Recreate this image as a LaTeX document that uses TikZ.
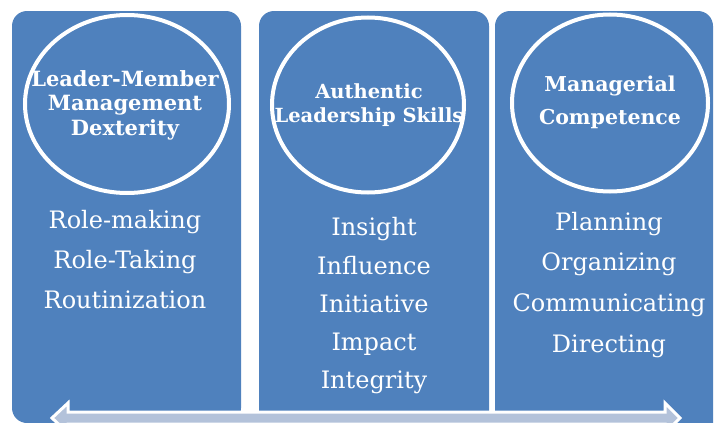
\documentclass[tikz,border=0pt]{standalone}
\usepackage{fontspec}
\setmainfont{DejaVu Serif}
\usetikzlibrary{shapes.geometric}
\definecolor{boxblue}{HTML}{4F81BD}
\definecolor{arrowfill}{HTML}{B3C2DA}
\tikzset{
  panel/.style={fill=boxblue, rounded corners=15pt},
  ring/.style={ellipse, draw=white, line width=4pt, inner sep=0pt},
  title/.style={text=white, font=\bfseries\fontsize{#1}{24}\selectfont, anchor=base, inner sep=0pt},
  title/.default=20,
  item/.style={text=white, font=\fontsize{24}{28}\selectfont, anchor=base, inner sep=0pt},
  band/.style={fill=arrowfill, draw=white, line width=3pt, line join=miter}
}
\begin{document}
\begin{tikzpicture}[x=1pt,y=-1pt]
\useasboundingbox (0,0) rectangle (715,423);
\clip (0,0) rectangle (715,423);
% panels
\fill[panel] (12,11) rectangle (241,423);
\fill[panel] (259,11) rectangle (489,440);
\fill[panel] (495,11) rectangle (713,440);
% rings
\node[ring, minimum width=204pt, minimum height=178pt] (c1) at (127,104) {};
\node[ring, minimum width=192pt, minimum height=175pt] (c2) at (368,105) {};
\node[ring, minimum width=196pt, minimum height=177pt] (c3) at (610,103) {};
% titles
\node[title=21] (t1a) at (125,86) {Leader-Member};
\node[title=21] (t1b) at (125,110) {Management};
\node[title=21] (t1c) at (125,135) {Dexterity};
\node[title=19.5] (t2a) at (369,98) {Authentic};
\node[title=19.5] (t2b) at (369,122) {Leadership Skills};
\node[title=20.5] (t3a) at (610,91) {Managerial};
\node[title=20.5] (t3b) at (610,124) {Competence};
% items
\node[item] (l1) at (125,228) {Role-making};
\node[item] (l2) at (125,268) {Role-Taking};
\node[item] (l3) at (125,308) {Routinization};
\node[item] (m1) at (374,235) {Insight};
\node[item] (m2) at (374,274) {Influence};
\node[item] (m3) at (374,312) {Initiative};
\node[item] (m4) at (374,350) {Impact};
\node[item] (m5) at (374,388) {Integrity};
\node[item] (r1) at (609,230) {Planning};
\node[item] (r2) at (609,270) {Organizing};
\node[item] (r3) at (609,311) {Communicating};
\node[item] (r4) at (609,352) {Directing};
% double arrow
\coordinate (aL) at (52,418);
\coordinate (aR) at (680,418);
\draw[band] (aL) -- (68,403) -- (68,412) -- (665,412) -- (665,403) -- (aR) -- (665,433) -- (665,424) -- (68,424) -- (68,433) -- cycle;
\end{tikzpicture}
\end{document}
